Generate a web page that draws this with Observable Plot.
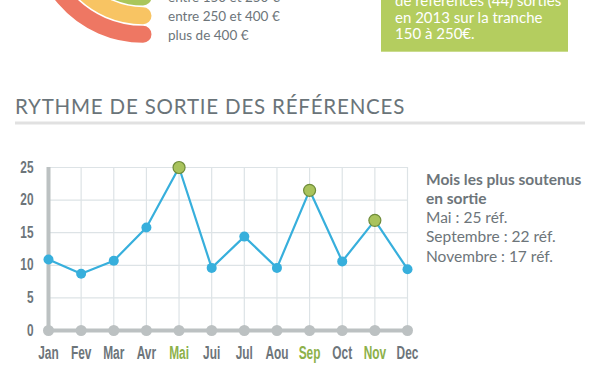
<!DOCTYPE html>
<html>
<head>
<meta charset="utf-8">
<script src="https://cdn.jsdelivr.net/npm/d3@7"></script>
<script src="https://cdn.jsdelivr.net/npm/@observablehq/plot@0.6"></script>
<style>
  html, body { margin: 0; padding: 0; background: #ffffff; }
  #page { position: relative; width: 600px; height: 372px; overflow: hidden; background: #ffffff; }
  #deco { position: absolute; left: 0; top: 0; }
  #chart { position: absolute; left: 0; top: 150px; width: 420px; height: 215px; }
  #chart svg { overflow: visible; max-width: none; }
</style>
</head>
<body>
<div id="page">
  <svg id="deco" width="600" height="372"></svg>
  <div id="chart"></div>
</div>
<script>
// ---- data ----
const months = ["Jan", "Fev", "Mar", "Avr", "Mai", "Jui", "Jul", "Aou", "Sep", "Oct", "Nov", "Dec"];
const releases = [10.9, 8.7, 10.7, 15.8, 25, 9.6, 14.4, 9.6, 21.5, 10.6, 16.9, 9.4];
const highlightMonths = ["Mai", "Sep", "Nov"];
const yTicks = [0, 5, 10, 15, 20, 25];

const title = "RYTHME DE SORTIE DES RÉFÉRENCES";
const sideTitle = ["Mois les plus soutenus", "en sortie"];
const sideLines = ["Mai : 25 réf.", "Septembre : 22 réf.", "Novembre : 17 réf."];

// cropped remnants of the section above
const tranches = ["entre 150 et 250 €", "entre 250 et 400 €", "plus de 400 €"];
const trancheColors = ["#a9c65b", "#f8c463", "#ee7763"];
const boxLines = ["de références (44) sorties", "en 2013 sur la tranche", "150 à 250€."];

// ---- colors ----
const gray = "#6d757a";
const green = "#8db14a";
const blue = "#37afdc";
const axisGray = "#bcc1c2";
const gridGray = "#dde3e6";

// ---- decoration / text layer ----
const deco = d3.select("#deco");

// partial donut arcs (top-left, cropped)
const cx = 143, cy = -69, r0 = 103.3, step = 18.6;
trancheColors.forEach((c, i) => {
  const r = r0 - (2 - i) * step;
  const p = d3.path();
  p.arc(cx, cy, r, Math.PI / 2, Math.PI * 1.05, false);
  deco.append("path").attr("d", p.toString())
    .attr("fill", "none").attr("stroke", c)
    .attr("stroke-width", 17).attr("stroke-linecap", "round");
});
tranches.forEach((t, i) => {
  deco.append("text").attr("x", 168).attr("y", 2 + i * 18.8)
    .attr("font-family", "Lato").attr("font-size", 13.5).attr("fill", gray).text(t);
});

// green info box (cropped)
deco.append("rect").attr("x", 381).attr("y", -40).attr("width", 187).attr("height", 91.7).attr("fill", "#b4cd5f");
boxLines.forEach((t, i) => {
  deco.append("text").attr("x", 395).attr("y", 6 + i * 16.6)
    .attr("font-family", "Lato").attr("font-size", 15).attr("fill", "#ffffff").text(t);
});

// section title + underline
deco.append("text").attr("x", 15).attr("y", 114)
  .attr("font-family", "Lato").attr("font-size", 20.5).attr("letter-spacing", 0.8)
  .attr("fill", "#6a7479").text(title);
deco.append("rect").attr("x", 15).attr("y", 121.5).attr("width", 570).attr("height", 3).attr("fill", "#e1e1e1");

// side note
sideTitle.forEach((t, i) => {
  deco.append("text").attr("x", 426).attr("y", 185 + i * 18.5)
    .attr("font-family", "Lato").attr("font-weight", "bold").attr("font-size", 15.5).attr("fill", gray).text(t);
});
sideLines.forEach((t, i) => {
  deco.append("text").attr("x", 426).attr("y", 223 + i * 19.3)
    .attr("font-family", "Lato").attr("font-size", 15.5).attr("fill", gray).text(t);
});

// ---- chart ----
const data = months.map((m, i) => ({month: m, value: releases[i], hi: highlightMonths.includes(m)}));
const axisFont = "'Liberation Sans', Arial, sans-serif";

const chart = Plot.plot({
  width: 420,
  height: 215,
  marginLeft: 48,
  marginRight: 13,
  marginTop: 17,
  marginBottom: 35,
  style: {fontFamily: axisFont, background: "transparent", overflow: "visible", maxWidth: "none"},
  x: {type: "point", domain: months, padding: 0, round: false},
  y: {domain: [0, 25]},
  marks: [
    Plot.gridY(yTicks, {stroke: gridGray, strokeOpacity: 1, strokeWidth: 1.2}),
    Plot.gridX(months, {stroke: gridGray, strokeOpacity: 1, strokeWidth: 1.2}),
    Plot.ruleX([months[0]], {y1: 0, y2: 25, stroke: axisGray, strokeWidth: 4}),
    Plot.ruleY([0], {stroke: axisGray, strokeWidth: 4}),
    Plot.dot(months, {x: d => d, y: () => 0, r: 5.5, fill: axisGray, stroke: "none"}),
    Plot.axisY(yTicks, {tickSize: 0, tickPadding: 15, fontSize: 16, fontWeight: "bold", fill: gray,
      label: null, className: "yax"}),
    Plot.axisX(months, {tickSize: 0, tickPadding: 16, fontSize: 18, fontWeight: "bold",
      fill: d => highlightMonths.includes(d) ? green : gray, label: null, className: "xax"}),
    Plot.line(data, {x: "month", y: "value", stroke: blue, strokeWidth: 2.2}),
    Plot.dot(data.filter(d => !d.hi), {x: "month", y: "value", r: 5, fill: blue, stroke: "none"}),
    Plot.dot(data.filter(d => d.hi), {x: "month", y: "value", r: 6, fill: "#a9c35c", stroke: "#6f8c3a", strokeWidth: 1.2})
  ]
});
document.getElementById("chart").appendChild(chart);

// condense the axis tick labels (reference uses a narrow display face)
d3.select(chart).selectAll(".yax text").attr("transform", function () {
  return (this.getAttribute("transform") || "") + " scale(0.74,1)";
});
d3.select(chart).selectAll(".xax text").attr("transform", function () {
  return (this.getAttribute("transform") || "") + " scale(0.66,1)";
});
</script>
</body>
</html>
